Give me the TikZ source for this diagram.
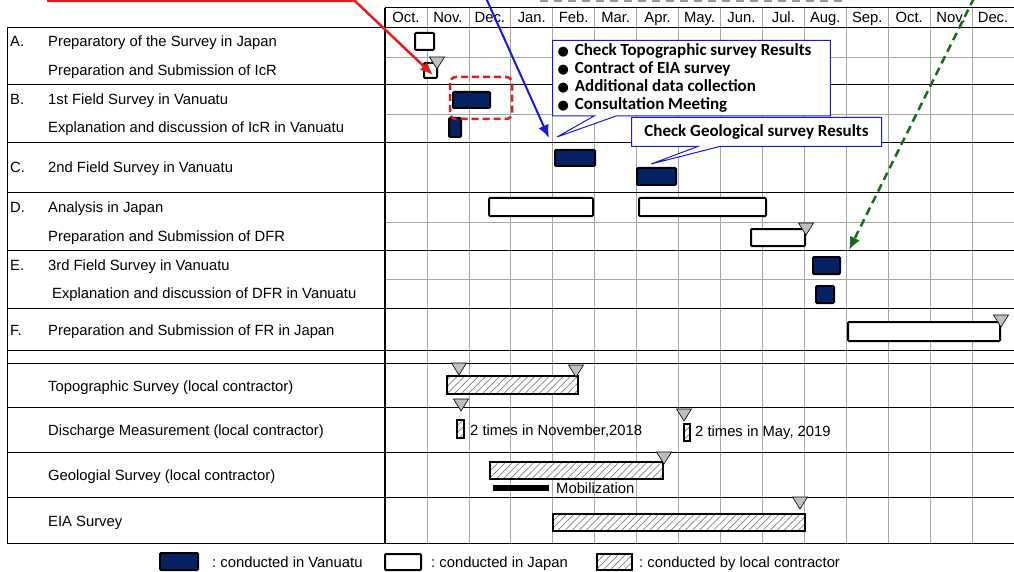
\documentclass[tikz,border=0pt]{standalone}
\usepackage{fontspec}
\setmainfont{Liberation Sans}
\newfontfamily\callfont{Carlito}
\newfontfamily\symf{DejaVu Sans}
\usepackage{tikz}
\usetikzlibrary{positioning,arrows.meta,patterns.meta,shapes.callouts}
\definecolor{navy}{RGB}{5,35,100}
\definecolor{redmark}{RGB}{225,30,25}
\definecolor{bluemark}{RGB}{25,25,215}
\definecolor{greenmark}{RGB}{20,110,25}
\newcommand{\mstone}[2]{\draw[stone] (#1-7.5,#2) -- (#1+7.5,#2) -- (#1,#2+12) -- cycle;}

\begin{document}
\begin{tikzpicture}[x=1pt,y=-1pt,
    font=\fontsize{14.8}{17}\selectfont,
    major/.style={black,line width=1pt},
    minor/.style={gray!70,line width=0.6pt},
    japan/.style={draw=black,line width=2pt,fill=white,rounded corners=1pt},
    vanuatu/.style={draw=black,line width=2pt,fill=navy,rounded corners=1pt},
    local/.style={draw=black,line width=2pt,preaction={fill=white},
        pattern={Lines[angle=45,distance=5pt,line width=0.7pt]},pattern color=gray},
    stone/.style={draw=black,line width=0.6pt,fill=gray!50},
    lbl/.style={anchor=base west,inner sep=0pt},
    note/.style={rectangle callout,draw=bluemark,line width=1pt,fill=white,
        callout pointer width=22pt,
        font=\callfont\bfseries\fontsize{17}{18}\selectfont,align=left}]
\useasboundingbox (0,0) rectangle (1014,572);

\foreach \i in {1,...,14}
    \draw[minor] (385+41.93*\i,8) -- (385+41.93*\i,543);
\foreach \y in {57,114,222,279}
    \draw[minor] (385,\y) -- (1014,\y);
\foreach \y in {28,85,143,193,250,308,350,363,407,452,497,543}
    \draw[major] (7,\y) -- (1014,\y);
\draw[major] (385,8) -- (1014,8);
\draw[major] (7,28) -- (7,543);
\draw[black,line width=1.6pt] (385,8) -- (385,543);

\foreach \m [count=\i from 0] in {Oct.,Nov.,Dec.,Jan.,Feb.,Mar.,Apr.,May.,Jun.,Jul.,Aug.,Sep.,Oct.,Nov.,Dec.}
    \node[anchor=base] (m\i) at (385+41.93*\i+21,23) {\m};

\node[lbl] (letA) at (10,47) {A.};
\node[lbl] (letB) at (10,105) {B.};
\node[lbl] (letC) at (10,173) {C.};
\node[lbl] (letD) at (10,212) {D.};
\node[lbl] (letE) at (10,270) {E.};
\node[lbl] (letF) at (10,335) {F.};
\node[lbl] (taskA1) at (48,47) {Preparatory of the Survey in Japan};
\node[lbl] (taskA2) at (48,76) {Preparation and Submission of IcR};
\node[lbl] (taskB1) at (48,105) {1st Field Survey in Vanuatu};
\node[lbl] (taskB2) at (48,133) {Explanation and discussion of IcR in Vanuatu};
\node[lbl] (taskC) at (48,173) {2nd Field Survey in Vanuatu};
\node[lbl] (taskD1) at (48,212) {Analysis in Japan};
\node[lbl] (taskD2) at (48,241) {Preparation and Submission of DFR};
\node[lbl] (taskE1) at (48,270) {3rd Field Survey in Vanuatu};
\node[lbl] (taskE2) at (52,298) {Explanation and discussion of DFR in Vanuatu};
\node[lbl] (taskF) at (48,335) {Preparation and Submission of FR in Japan};
\node[lbl] (topo) at (48,391) {Topographic Survey (local contractor)};
\node[lbl] (disch) at (48,435) {Discharge Measurement (local contractor)};
\node[lbl] (geo) at (48,480) {Geologial Survey (local contractor)};
\node[lbl] (eia) at (48,526) {EIA Survey};

\draw[japan] (415,33) rectangle (434,50);
\draw[japan] (424,63) rectangle (437,78);
\draw[japan] (489,198) rectangle (593,216);
\draw[japan] (639,198) rectangle (766,216);
\draw[japan] (751,229) rectangle (805,246);
\draw[japan] (848,322) rectangle (1000,341);
\draw[vanuatu] (453,92) rectangle (490,108);
\draw[vanuatu] (449,118) rectangle (461,137);
\draw[vanuatu] (555,150) rectangle (595,166);
\draw[vanuatu] (637,168) rectangle (676,185);
\draw[vanuatu] (813,257) rectangle (840,274);
\draw[vanuatu] (816,286) rectangle (834,303);
\draw[local] (447,376) rectangle (578,394);
\draw[local] (457,420) rectangle (464,438);
\draw[local] (684,424) rectangle (690,441);
\draw[local] (490,462) rectangle (663,479);
\draw[local] (553,514) rectangle (805,531);
\fill[black] (493,485) rectangle (549,491);
\node[lbl] (mob) at (556,493) {Mobilization};
\node[lbl] (nov) at (470,435) {2 times in November,2018};
\node[lbl] (may) at (695,436) {2 times in May, 2019};

\mstone{437}{57}
\mstone{806}{223}
\mstone{1001}{315}
\mstone{459}{363}
\mstone{576}{365}
\mstone{461}{399}
\mstone{684}{409}
\mstone{664}{452}
\mstone{800}{497}

\draw[redmark,line width=2.5pt,dash pattern=on 7pt off 4pt,rounded corners=6pt] (450,77) rectangle (512,119);

\coordinate (tipone) at (557,137);
\coordinate (tiptwo) at (651,164);
\node[note,anchor=north west,inner xsep=5pt,minimum height=72,
    callout absolute pointer={(tipone)}] (checks) at (552,40)
    {{\symf\fontsize{13}{18}\selectfont●}\hspace{6pt}Check Topographic survey Results\hspace*{14pt}\\
     {\symf\fontsize{13}{18}\selectfont●}\hspace{6pt}Contract of EIA survey\\
     {\symf\fontsize{13}{18}\selectfont●}\hspace{6pt}Additional data collection\\
     {\symf\fontsize{13}{18}\selectfont●}\hspace{6pt}Consultation Meeting};
\node[note,anchor=north west,minimum width=250,minimum height=29,
    callout absolute pointer={(tiptwo)}] (geocheck) at (631,117)
    {Check Geological survey Results};

\coordinate (redstart) at (47,1);
\coordinate (redbend) at (355,1);
\coordinate (redtip) at (433,75);
\draw[redmark,line width=2.5pt,-{Latex[length=13pt,width=11pt]}] (redstart) -- (redbend) -- (redtip);
\coordinate (bluestart) at (486,-2);
\coordinate (bluetip) at (549,138);
\draw[bluemark,line width=2pt,-{Latex[length=13pt,width=11pt]}] (bluestart) -- (bluetip);
\coordinate (greenstart) at (974,-2);
\coordinate (greentip) at (849,250);
\draw[greenmark,line width=2.5pt,dash pattern=on 8pt off 5pt,-{Latex[length=13pt,width=11pt]}] (greenstart) -- (greentip);
\draw[gray!80,line width=1.2pt,dash pattern=on 8pt off 6pt] (540,1) -- (848,1);

\draw[vanuatu] (160,553) rectangle (198,570);
\node[lbl] (keyvan) at (212,567) {:\ conducted in Vanuatu};
\draw[japan] (385,554) rectangle (421,570);
\node[lbl] (keyjap) at (431,567) {:\ conducted in Japan};
\draw[local] (597,554) rectangle (632,570);
\node[lbl] (keyloc) at (639,567) {:\ conducted by local contractor};
\end{tikzpicture}
\end{document}
